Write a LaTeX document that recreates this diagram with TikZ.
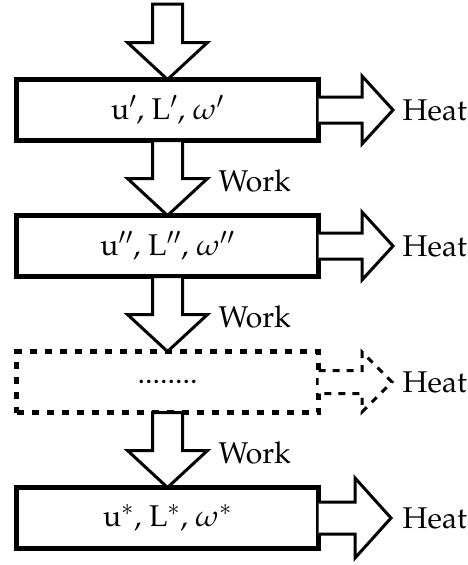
\documentclass[tikz,border=0pt]{standalone}
\usepackage[T1]{fontenc}
\usepackage{mathpazo}
\usetikzlibrary{calc}
\newcommand\dnarr[3]{% #1 from node anchor, #2 tip anchor, #3 style
  \draw[#3] ($(#1)+(-15,0)$) -- ($(#2)+(-15,-37)$) -- ($(#2)+(-40,-37)$) -- (#2)
    -- ($(#2)+(40,-37)$) -- ($(#2)+(15,-37)$) -- ($(#1)+(15,0)$) -- cycle;}
\newcommand\rtarr[6]{% #1 start anchor, #2 tip coordinate, #3 style, #4 shaft half, #5 head half, #6 head length
  \draw[#3] ($(#1)+(0,-#4)$) -- ($(#2)+(-#6,-#4)$) -- ($(#2)+(-#6,-#5)$) -- (#2)
    -- ($(#2)+(-#6,#5)$) -- ($(#2)+(-#6,#4)$) -- ($(#1)+(0,#4)$);}
\begin{document}
\begin{tikzpicture}[x=1pt,y=-1pt,
  box/.style={draw, line width=4.5pt, minimum width=302pt, minimum height=61pt,
    outer sep=0pt, inner sep=0pt, font=\fontsize{30}{36}\selectfont},
  dbox/.style={box, dash pattern=on 7pt off 8pt},
  arr/.style={draw, line width=3pt, fill=white, line join=miter},
  darr/.style={arr, dash pattern=on 7pt off 7pt},
  lbl/.style={anchor=west, inner sep=0pt, font=\fontsize{30}{36}\selectfont}]
\useasboundingbox (0,0) rectangle (468,565);
\node[box] (b1) at (167.5,110) {u$'$, L$'$, $\omega'$};
\node[box] (b2) at (167.5,246) {u$''$, L$''$, $\omega''$};
\node[dbox] (b3) at (167.5,382) {........};
\node[box] (b4) at (167.5,518) {u$^*$, L$^*$, $\omega^*$};
\coordinate (in) at (167.5,4);
% down arrows
\dnarr{in}{b1.north}{arr}
\dnarr{b1.south}{b2.north}{arr}
\dnarr{b2.south}{b3.north}{arr}
\dnarr{b3.south}{b4.north}{arr}
% work labels
\node[lbl] (w1) at ($(b2.north)+(51,-35)$) {Work};
\node[lbl] (w2) at ($(b3.north)+(51,-35)$) {Work};
\node[lbl] (w3) at ($(b4.north)+(51,-35)$) {Work};
% heat arrows
\coordinate (t1) at ($(b1.east)+(74.5,0)$);
\coordinate (t2) at ($(b2.east)+(74.5,0)$);
\coordinate (t3) at ($(b3.east)+(73.5,0)$);
\coordinate (t4) at ($(b4.east)+(72.5,0)$);
\rtarr{b1.east}{t1}{arr}{13}{34}{31}
\rtarr{b2.east}{t2}{arr}{13}{34}{31}
\rtarr{b3.east}{t3}{darr}{11.5}{30}{30}
\rtarr{b4.east}{t4}{arr}{16}{40}{36}
\node[lbl] (h1) at ($(b1.east)+(84,0)$) {Heat};
\node[lbl] (h2) at ($(b2.east)+(84,0)$) {Heat};
\node[lbl] (h3) at ($(b3.east)+(84,0)$) {Heat};
\node[lbl] (h4) at ($(b4.east)+(84,0)$) {Heat};
\end{tikzpicture}
\end{document}
